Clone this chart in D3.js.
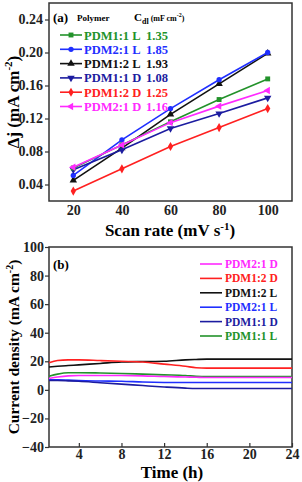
<!DOCTYPE html>
<html><head><meta charset="utf-8">
<script src="https://cdn.jsdelivr.net/npm/d3@7"></script>
<style>body{margin:0;background:#fff}svg{display:block;font-family:"Liberation Serif","Times New Roman",serif;font-weight:bold}</style>
</head><body><svg id="c" width="302" height="482"></svg>
<script>
// ---- panel (a) data
const scanRates = [20, 40, 60, 80, 100];
const namesA = ["PDM1:1 L", "PDM2:1 L", "PDM1:2 L", "PDM1:1 D", "PDM1:2 D", "PDM2:1 D"];
const cdl = ["1.35", "1.85", "1.93", "1.08", "1.25", "1.16"];
const colorsA = ["#22922a", "#1f2fff", "#111111", "#1c1ca0", "#ff2020", "#ff2aff"];
const symbolsA = ["square", "circle", "triangleUp", "triangleDown", "diamond", "triangleLeft"];
const dj_PDM11L = [0.060, 0.088, 0.116, 0.143, 0.168];
const dj_PDM21L = [0.051, 0.094, 0.132, 0.167, 0.200];
const dj_PDM12L = [0.045, 0.084, 0.125, 0.162, 0.199];
const dj_PDM11D = [0.058, 0.082, 0.108, 0.126, 0.145];
const dj_PDM12D = [0.032, 0.059, 0.086, 0.109, 0.132];
const dj_PDM21D = [0.061, 0.088, 0.115, 0.135, 0.154];
const seriesA = [dj_PDM11L, dj_PDM21L, dj_PDM12L, dj_PDM11D, dj_PDM12D, dj_PDM21D];
const yTicksA = [0.04, 0.08, 0.12, 0.16, 0.20, 0.24];
const xTicksA = [20, 40, 60, 80, 100];

// ---- panel (b) data
const time = [1.2, 2, 3, 4, 6, 8, 10, 12, 14, 15, 16, 20, 24];
const cd_PDM21D = [8, 9, 9.8, 10, 10, 10, 9.8, 9.3, 9, 8.8, 8.6, 8.6, 8.6];
const cd_PDM12D = [19, 20.5, 21, 21, 20.5, 20, 19.5, 18, 16.5, 15.5, 15.2, 15.2, 15.2];
const cd_PDM12L = [16, 16.5, 17, 17.5, 18.5, 19.5, 19.8, 20, 21, 21.3, 21.5, 21.5, 21.5];
const cd_PDM21L = [7, 7, 6.8, 6.5, 6.2, 6, 5.5, 5.2, 5.1, 5.1, 5.1, 5.1, 5.1];
const cd_PDM11D = [6.5, 6.5, 6.3, 6, 5, 4, 3, 2, 1.2, 1, 1, 1, 1];
const cd_PDM11L = [9.5, 11, 12, 12, 11.8, 11.5, 11, 10.5, 10, 9.5, 9.3, 9.3, 9.3];
const namesB = ["PDM2:1 D", "PDM1:2 D", "PDM1:2 L", "PDM2:1 L", "PDM1:1 D", "PDM1:1 L"];
const colorsB = ["#ff2aff", "#ff2020", "#111111", "#1f2fff", "#1c1ca0", "#22922a"];
const seriesB = [cd_PDM21D, cd_PDM12D, cd_PDM12L, cd_PDM21L, cd_PDM11D, cd_PDM11L];
const yTicksB = [-40, -20, 0, 20, 40, 60, 80, 100];
const xTicksB = [4, 8, 12, 16, 20, 24];

const svg = d3.select("#c");
const L = 49, R = 292;

// ===== Panel (a)
const topA = 3, botA = 201;
const xA = d3.scaleLinear().domain([10, 110]).range([L, R]);
const yA = d3.scaleLinear().domain([0.02, 0.26]).range([botA, topA]);
const gA = svg.append("g");
gA.append("rect").attr("x", L).attr("y", topA).attr("width", R - L).attr("height", botA - topA)
  .attr("fill", "none").attr("stroke", "#333").attr("stroke-width", 1.5);
const axYA = gA.append("g").attr("transform", `translate(${L},0)`)
  .call(d3.axisLeft(yA).tickValues(yTicksA).tickFormat(d3.format(".2f")).tickSize(4).tickPadding(2));
const axXA = gA.append("g").attr("transform", `translate(0,${botA})`)
  .call(d3.axisBottom(xA).tickValues(xTicksA).tickSize(0).tickPadding(4));
[axYA, axXA].forEach(a => { a.select(".domain").remove(); a.selectAll("line").attr("stroke", "#333").attr("stroke-width", 1.2);
  a.selectAll("text").attr("font-size", 14).attr("font-weight", "bold").attr("fill", "#222").attr("font-family", "Liberation Serif"); });

const symMap = {square: d3.symbolSquare, circle: d3.symbolCircle, triangleUp: d3.symbolTriangle, triangleDown: d3.symbolTriangle, diamond: d3.symbolDiamond, triangleLeft: d3.symbolTriangle};
const rotMap = {triangleDown: 180, triangleLeft: -90};
function marker(g, sym, color, x, y) {
  g.append("path").attr("d", d3.symbol().type(symMap[sym]).size(sym === "circle" ? 22 : 24)())
    .attr("fill", color)
    .attr("transform", `translate(${x},${y}) rotate(${rotMap[sym] || 0})`);
}
const lineA = d3.line().x((d, i) => xA(scanRates[i])).y(d => yA(d));
const orderA = [2, 1, 3, 4, 0, 5];
orderA.forEach(k => {
  gA.append("path").attr("d", lineA(seriesA[k])).attr("fill", "none").attr("stroke", colorsA[k]).attr("stroke-width", 1.6);
  seriesA[k].forEach((v, i) => marker(gA, symbolsA[k], colorsA[k], xA(scanRates[i]), yA(v)));
});
// legend (a)
gA.append("text").attr("x", 53).attr("y", 22).attr("font-size", 13).text("(a)");
gA.append("text").attr("x", 77).attr("y", 21).attr("font-size", 9).text("Polymer");
const cd = gA.append("text").attr("x", 134).attr("y", 21).attr("font-size", 11);
cd.append("tspan").text("C");
cd.append("tspan").attr("font-size", 8).attr("dy", 3).text("dl");
cd.append("tspan").attr("font-size", 8).attr("dy", -3).text(" (mF cm");
cd.append("tspan").attr("font-size", 6).attr("dy", -4).text("-2");
cd.append("tspan").attr("font-size", 8).attr("dy", 4).text(")");
namesA.forEach((n, k) => {
  const y = 35 + k * 14.3;
  gA.append("line").attr("x1", 60).attr("x2", 82).attr("y1", y).attr("y2", y).attr("stroke", colorsA[k]).attr("stroke-width", 1.6);
  marker(gA, symbolsA[k], colorsA[k], 71, y);
  gA.append("text").attr("x", 84).attr("y", y + 4.5).attr("font-size", 12.5).attr("fill", colorsA[k]).text(n);
  gA.append("text").attr("x", 146).attr("y", y + 4.5).attr("font-size", 12.5).attr("fill", colorsA[k]).text(cdl[k]);
});
// axis titles (a)
const ytA = gA.append("text").attr("transform", `translate(19,${(topA + botA) / 2}) rotate(-90)`).attr("text-anchor", "middle").attr("font-size", 17);
ytA.append("tspan").text("Δj (mA cm");
ytA.append("tspan").attr("font-size", 11).attr("dy", -7).text("-2");
ytA.append("tspan").attr("dy", 7).text(")");
const xtA = gA.append("text").attr("x", 170).attr("y", 236).attr("text-anchor", "middle").attr("font-size", 17);
xtA.append("tspan").text("Scan rate (mV s");
xtA.append("tspan").attr("font-size", 11).attr("dy", -6).text("-1");
xtA.append("tspan").attr("dy", 6).text(")");

// ===== Panel (b)
const topB = 247, botB = 447;
const xB = d3.scaleLinear().domain([1.2, 24]).range([L, R]);
const yB = d3.scaleLinear().domain([-40, 100]).range([botB, topB]);
const gB = svg.append("g");
gB.append("rect").attr("x", L).attr("y", topB).attr("width", R - L).attr("height", botB - topB)
  .attr("fill", "none").attr("stroke", "#333").attr("stroke-width", 1.5);
const axYB = gB.append("g").attr("transform", `translate(${L},0)`)
  .call(d3.axisLeft(yB).tickValues(yTicksB).tickSize(4).tickPadding(1));
const axXB = gB.append("g").attr("transform", `translate(0,${botB})`)
  .call(d3.axisBottom(xB).tickValues(xTicksB).tickSizeInner(-4).tickSizeOuter(0).tickPadding(2));
[axYB, axXB].forEach(a => { a.select(".domain").remove(); a.selectAll("line").attr("stroke", "#333").attr("stroke-width", 1.2);
  a.selectAll("text").attr("font-size", 14).attr("font-weight", "bold").attr("fill", "#222").attr("font-family", "Liberation Serif"); });
const lineB = d3.line().x((d, i) => xB(time[i])).y(d => yB(d)).curve(d3.curveMonotoneX);
[2, 1, 5, 0, 3, 4].forEach(k => {
  gB.append("path").attr("d", lineB(seriesB[k])).attr("fill", "none").attr("stroke", colorsB[k]).attr("stroke-width", 1.6);
});
gB.append("text").attr("x", 53).attr("y", 269).attr("font-size", 13).text("(b)");
namesB.forEach((n, k) => {
  const y = 264 + k * 14.4;
  gB.append("line").attr("x1", 200).attr("x2", 222).attr("y1", y).attr("y2", y).attr("stroke", colorsB[k]).attr("stroke-width", 1.6);
  gB.append("text").attr("x", 225).attr("y", y + 4).attr("font-size", 11.5).attr("fill", colorsB[k]).text(n);
});
const ytB = gB.append("text").attr("transform", `translate(19,${(topB + botB) / 2}) rotate(-90)`).attr("text-anchor", "middle").attr("font-size", 15.5);
ytB.append("tspan").text("Current density (mA cm");
ytB.append("tspan").attr("font-size", 10).attr("dy", -6).text("-2");
ytB.append("tspan").attr("dy", 6).text(")");
gB.append("text").attr("x", 172).attr("y", 478).attr("text-anchor", "middle").attr("font-size", 17).text("Time (h)");
</script></body></html>
